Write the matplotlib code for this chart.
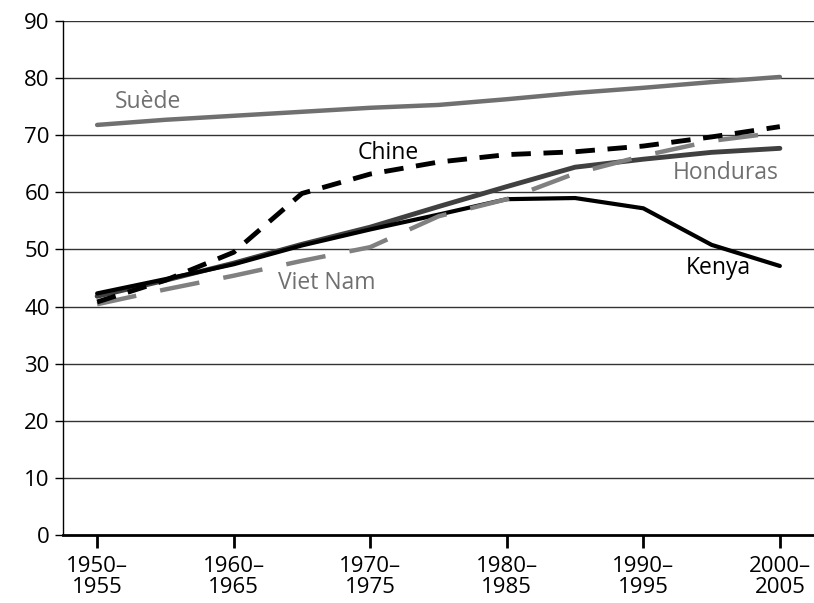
import numpy as np
import matplotlib.pyplot as plt

plt.rcParams['font.family'] = ['Open Sans', 'DejaVu Sans']

periodes = ['1950–\n1955', '1955–\n1960', '1960–\n1965', '1965–\n1970', '1970–\n1975', '1975–\n1980',
            '1980–\n1985', '1985–\n1990', '1990–\n1995', '1995–\n2000', '2000–\n2005']
suede = [71.8, 72.7, 73.4, 74.1, 74.8, 75.3, 76.3, 77.4, 78.3, 79.3, 80.2]
chine = [40.8, 44.6, 49.5, 59.8, 63.2, 65.3, 66.6, 67.1, 68.1, 69.7, 71.5]
kenya = [42.3, 44.8, 47.4, 50.7, 53.5, 56.1, 58.8, 59.0, 57.2, 50.8, 47.1]
honduras = [41.8, 44.6, 47.6, 50.9, 53.9, 57.5, 61.0, 64.4, 65.8, 67.0, 67.7]
vietnam = [40.4, 43.0, 45.4, 48.0, 50.4, 55.8, 58.8, 63.3, 66.4, 69.0, 70.5]

x = np.arange(len(periodes))

fig = plt.figure(figsize=(8.14, 6.03), dpi=100)
ax = fig.add_axes([0.0774, 0.1128, 0.9226, 0.8524])

for v in range(10, 100, 10):
    ax.axhline(v, color='#333333', lw=1.0, zorder=1)

ax.plot(x, suede, color='#707070', lw=3.2, solid_capstyle='round', zorder=3)
ax.plot(x, honduras, color='#404040', lw=3.5, solid_capstyle='round', zorder=3)
ax.plot(x, kenya, color='black', lw=3, solid_capstyle='round', zorder=4)
ax.plot(x, vietnam, color='#808080', lw=3.2, dashes=(9, 5.5), zorder=5)
ax.plot(x, chine, color='black', lw=3.5, dashes=(4, 2.6), zorder=6)

ax.text(0.75, 75.8, 'Suède', color='#707070', fontsize=16.5, ha='center', va='center')
ax.text(4.26, 66.9, 'Chine', color='black', fontsize=16.5, ha='center', va='center')
ax.text(9.2, 63.4, 'Honduras', color='#707070', fontsize=16.5, ha='center', va='center')
ax.text(3.37, 44.1, 'Viet Nam', color='#707070', fontsize=16.5, ha='center', va='center')
ax.text(9.1, 46.8, 'Kenya', color='black', fontsize=16.5, ha='center', va='center')

ax.set_xlim(-0.5, 10.5)
ax.set_ylim(0, 90)
ax.set_xticks(x[::2])
ax.set_xticklabels(periodes[::2], fontsize=16, linespacing=1.0)
ax.set_yticks(range(0, 100, 10))
ax.tick_params(axis='y', labelsize=16, length=6, width=1)
ax.tick_params(axis='x', length=9, width=2, pad=6)
for s in ['top', 'right']:
    ax.spines[s].set_visible(False)
ax.spines['bottom'].set_linewidth(2)
ax.spines['left'].set_linewidth(1)

fig.savefig('out.png', dpi=100)
